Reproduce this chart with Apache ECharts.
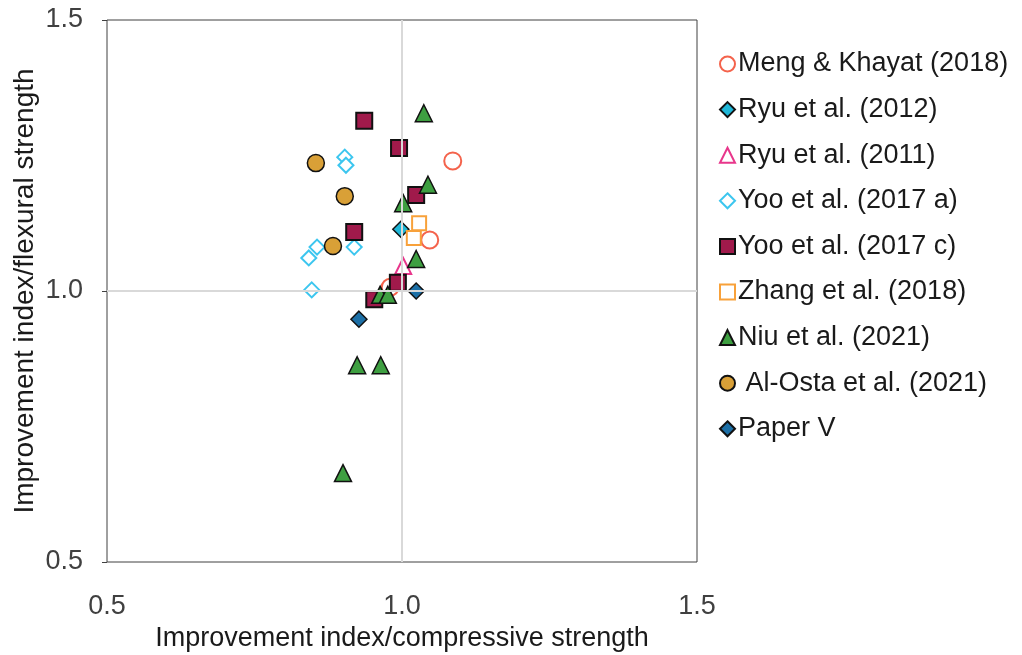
<!DOCTYPE html>
<html>
<head>
<meta charset="utf-8">
<script src="https://cdn.jsdelivr.net/npm/echarts@6/dist/echarts.min.js"></script>
<style>
  html, body { margin: 0; padding: 0; background: #fff; }
  #chart { width: 1022px; height: 655px; }
</style>
</head>
<body>
<div id="chart"></div>
<script>
// Improvement index pairs: [compressive, flexural]
const mengKhayat2018 = [[1.086, 1.240], [1.047, 1.094], [0.980, 1.007]];
const ryu2012 = [[0.998, 1.114]];
const ryu2011 = [[1.002, 1.046]];
const yoo2017a = [[0.903, 1.247], [0.905, 1.232], [0.856, 1.081], [0.842, 1.061], [0.919, 1.081], [0.847, 1.002]];
const yoo2017c = [[0.936, 1.314], [0.995, 1.264], [0.919, 1.109], [1.024, 1.177], [0.993, 1.015], [0.953, 0.985]];
const zhang2018 = [[1.029, 1.125], [1.020, 1.098]];
const niu2021 = [[1.037, 1.328], [1.044, 1.196], [1.002, 1.162], [1.024, 1.059], [0.963, 0.993], [0.976, 0.993], [0.924, 0.863], [0.964, 0.863], [0.900, 0.664]];
const alOsta2021 = [[0.854, 1.236], [0.903, 1.175], [0.883, 1.083]];
const paperV = [[1.024, 1.000], [0.927, 0.948]];

const axisTicks = { min: 0.5, max: 1.5, interval: 0.5 };
const refValue = 1.0;

const FONT = 'Liberation Sans, Arial, sans-serif';

function series(name, data, symbol, size, fill, stroke, borderW) {
  return {
    name: name,
    type: 'scatter',
    data: data,
    symbol: symbol,
    symbolSize: size,
    itemStyle: { color: fill, borderColor: stroke, borderWidth: borderW, opacity: 1 },
    emphasis: { disabled: true }
  };
}

const allSeries = [
  series('Meng & Khayat (2018)', mengKhayat2018, 'circle', 17, '#ffffff', '#F4634C', 2),
  series('Ryu et al. (2012)', ryu2012, 'diamond', 16, '#1FB7D8', '#111111', 1.5),
  series('Ryu et al. (2011)', ryu2011, 'triangle', 16, '#ffffff', '#E8368B', 2),
  series('Yoo et al. (2017 a)', yoo2017a, 'diamond', 15, '#ffffff', '#3CC6EF', 2),
  series('Yoo et al. (2017 c)', yoo2017c, 'rect', 16, '#A01A4B', '#111111', 2),
  series('Zhang et al. (2018)', zhang2018, 'rect', 14, '#ffffff', '#F8A13A', 2),
  series('Niu et al. (2021)', niu2021, 'triangle', 17, '#3E9F41', '#111111', 1.5),
  series(' Al-Osta et al. (2021)', alOsta2021, 'circle', 17, '#D9A037', '#111111', 1.5),
  series('Paper V', paperV, 'diamond', 16, '#1C6FA6', '#111111', 1.5)
];

// reference lines at 1.0 on both axes
allSeries.unshift({
  type: 'scatter',
  data: [],
  silent: true,
  markLine: {
    silent: true,
    symbol: 'none',
    label: { show: false },
    lineStyle: { color: '#d9d9d9', width: 2, type: 'solid' },
    data: [{ xAxis: refValue }, { yAxis: refValue }]
  }
});

const chart = echarts.init(document.getElementById('chart'), null, { renderer: 'canvas' });
chart.setOption({
  animation: false,
  backgroundColor: '#ffffff',
  grid: {
    left: 107, right: 325, top: 20, bottom: 93,
    outerBoundsMode: 'none',
    show: true, borderColor: '#404040', borderWidth: 1, backgroundColor: 'transparent'
  },
  legend: {
    orient: 'vertical',
    left: 714, top: 45,
    itemWidth: 15, itemHeight: 15,
    itemGap: 17.6,
    data: allSeries.filter(s => s.name).map(s => s.name),
    textStyle: { fontFamily: FONT, fontSize: 27, lineHeight: 28, color: '#1a1a1a', padding: [0, 0, 0, -2] }
  },
  xAxis: {
    type: 'value',
    min: axisTicks.min, max: axisTicks.max, interval: axisTicks.interval,
    name: 'Improvement index/compressive strength',
    nameLocation: 'middle', nameGap: 63, nameMoveOverlap: false,
    nameTextStyle: { fontFamily: FONT, fontSize: 27, color: '#1a1a1a' },
    axisLine: { show: false },
    axisTick: { show: false },
    splitLine: { show: false },
    axisLabel: {
      margin: 31, fontFamily: FONT, fontSize: 27, color: '#404040',
      formatter: v => v.toFixed(1)
    }
  },
  yAxis: {
    type: 'value',
    min: axisTicks.min, max: axisTicks.max, interval: axisTicks.interval,
    name: 'Improvement index/flexural strength',
    nameLocation: 'middle', nameGap: 68, nameMoveOverlap: false,
    nameTextStyle: { fontFamily: FONT, fontSize: 28, color: '#1a1a1a' },
    axisLine: { show: false },
    axisTick: { show: true, length: 5, lineStyle: { color: '#404040' } },
    splitLine: { show: false },
    axisLabel: {
      margin: 24, fontFamily: FONT, fontSize: 27, color: '#404040',
      formatter: v => v.toFixed(1)
    }
  },
  series: allSeries
});
</script>
</body>
</html>
